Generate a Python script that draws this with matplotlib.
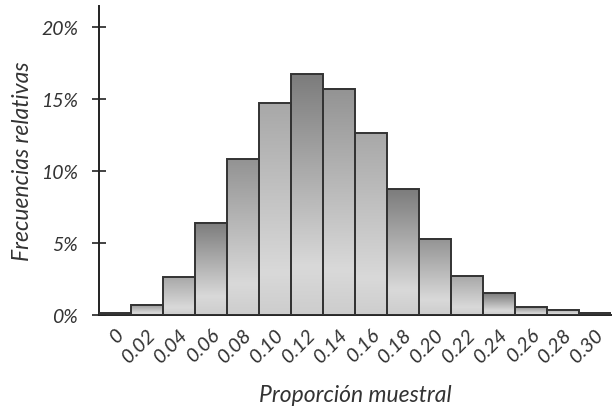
import numpy as np
import matplotlib
matplotlib.use("Agg")
import matplotlib.pyplot as plt
from matplotlib.colors import LinearSegmentedColormap

# Data
bins = ["0", "0.02", "0.04", "0.06", "0.08", "0.10", "0.12", "0.14", "0.16",
        "0.18", "0.20", "0.22", "0.24", "0.26", "0.28", "0.30"]
freq_pct = [0.1, 0.7, 2.6, 6.4, 10.8, 14.7, 16.7, 15.7, 12.6, 8.75, 5.3, 2.7,
            1.5, 0.55, 0.35, 0.15]
y_ticks = [0, 5, 10, 15, 20]
y_labels = ["0%", "5%", "10%", "15%", "20%"]

# Style: top shade cycles dark / medium / light
top_shades = ["#7c7c7c", "#939393", "#a8a8a8"]

plt.rcParams['font.family'] = ['Lato', 'DejaVu Sans']
txt_color = "#333333"
fw = 'normal'

fig = plt.figure(figsize=(6.12, 4.14), dpi=100)
ax = fig.add_axes([0.1618, 0.237, 0.8366, 0.746])

x = np.arange(len(bins))
bars = ax.bar(x, freq_pct, width=1.0, facecolor="none", edgecolor="#333333",
              linewidth=1.4, zorder=3)

grad = np.linspace(0, 1, 256).reshape(-1, 1)
for i, b in enumerate(bars):
    x0, w, h = b.get_x(), b.get_width(), b.get_height()
    cmap = LinearSegmentedColormap.from_list(
        "g", [(0.0, top_shades[i % 3]), (0.8, "#d9d9d9"), (1.0, "#cdcdcd")])
    ax.imshow(grad, extent=[x0, x0 + w, 0, h], aspect='auto', cmap=cmap,
              origin='upper', zorder=2, interpolation='bilinear')

ax.set_xlim(-0.5, len(bins) - 0.5)
ax.set_ylim(0, 21.45)

for s in ["top", "right"]:
    ax.spines[s].set_visible(False)
ax.spines["left"].set_color("#222222")
ax.spines["left"].set_linewidth(1.4)
ax.spines["bottom"].set_color("#222222")
ax.spines["bottom"].set_linewidth(1.4)

ax.set_yticks(y_ticks)
ax.set_yticklabels(y_labels, fontsize=14, style='italic', weight=fw,
                   color=txt_color)
ax.tick_params(axis='y', direction='inout', length=10, width=1.2,
               colors="#222222", labelcolor=txt_color, pad=10)

ax.set_xticks(x)
ax.set_xticklabels(bins, fontsize=14.5, style='italic', weight=fw,
                   color=txt_color, rotation=45, ha='right',
                   rotation_mode='anchor')
ax.tick_params(axis='x', length=0, pad=7)

ax.set_ylabel("Frecuencias relativas", fontsize=16.5, style='italic',
              weight=fw, color=txt_color, labelpad=6)
ax.set_xlabel("Proporción muestral", fontsize=16.5, style='italic',
              weight=fw, color=txt_color, labelpad=14)

fig.savefig("out.png", dpi=100)
